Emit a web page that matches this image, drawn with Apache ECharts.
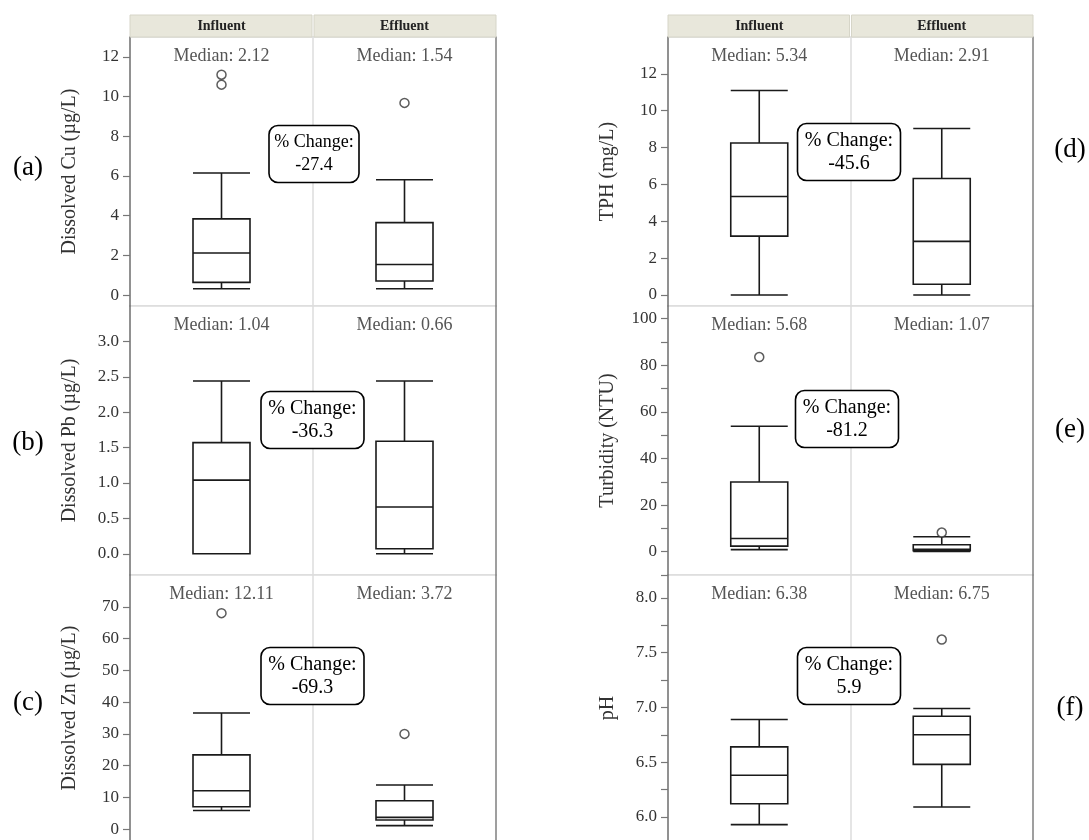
<!DOCTYPE html>
<html>
<head>
<meta charset="utf-8">
<script src="https://cdn.jsdelivr.net/npm/echarts@6/dist/echarts.min.js"></script>
<style>
html,body{margin:0;padding:0;background:#fff;}
#chart{width:1089px;height:840px;}
</style>
</head>
<body>
<div id="chart"></div>
<script>
// ---------- DATA ----------
const categories = ['Influent', 'Effluent'];
const panelLetters = ['(a)', '(b)', '(c)', '(d)', '(e)', '(f)'];
const yTitles = ['Dissolved Cu (µg/L)', 'Dissolved Pb (µg/L)', 'Dissolved Zn (µg/L)', 'TPH (mg/L)', 'Turbidity (NTU)', 'pH'];

// box stats: [lower whisker, Q1, median, Q3, upper whisker] for Influent, Effluent
const cuBox = [[0.32, 0.64, 2.12, 3.84, 6.15], [0.32, 0.71, 1.54, 3.65, 5.81]];
const pbBox = [[0.0, 0.0, 1.04, 1.57, 2.44], [0.0, 0.07, 0.66, 1.59, 2.44]];
const znBox = [[5.9, 7.06, 12.11, 23.4, 36.6], [1.15, 2.9, 3.72, 8.96, 13.9]];
const tphBox = [[0.0, 3.19, 5.34, 8.25, 11.1], [0.0, 0.58, 2.91, 6.32, 9.03]];
const turbBox = [[0.9, 2.4, 5.68, 29.9, 53.8], [0.15, 0.4, 1.07, 3.0, 6.4]];
const phBox = [[5.93, 6.12, 6.38, 6.64, 6.89], [6.09, 6.48, 6.75, 6.92, 6.99]];

// outliers: [category index, value]
const cuOut = [[0, 11.1], [0, 10.6], [1, 9.68]];
const pbOut = [];
const znOut = [[0, 68.0], [1, 30.0]];
const tphOut = [];
const turbOut = [[0, 83.5], [1, 8.2]];
const phOut = [[1, 7.62]];

const pctChange = ['-27.4', '-36.3', '-69.3', '-45.6', '-81.2', '5.9'];

// axis ranges and tick labels
const cuTicks = [0, 2, 4, 6, 8, 10, 12];
const pbTicks = [0, 0.5, 1.0, 1.5, 2.0, 2.5, 3.0];
const znTicks = [0, 10, 20, 30, 40, 50, 60, 70];
const tphTicks = [0, 2, 4, 6, 8, 10, 12];
const turbTicks = [0, 20, 40, 60, 80, 100];
const turbMinorTicks = [-10, 0, 10, 20, 30, 40, 50, 60, 70, 80, 90, 100];
const phTicks = [6.0, 6.5, 7.0, 7.5, 8.0];
const phMinorTicks = [6.0, 6.25, 6.5, 6.75, 7.0, 7.25, 7.5, 7.75, 8.0];

const yRanges = [[-0.55, 13], [-0.3, 3.5], [-3.7, 80], [-0.6, 14], [-10, 105.4], [5.78, 8.21]];

const boxes = [cuBox, pbBox, znBox, tphBox, turbBox, phBox];
const outs = [cuOut, pbOut, znOut, tphOut, turbOut, phOut];
const labelTicks = [cuTicks, pbTicks, znTicks, tphTicks, turbTicks, phTicks];
const tickMarks = [cuTicks, pbTicks, znTicks, tphTicks, turbMinorTicks, phMinorTicks];
const decimals = [0, 1, 0, 0, 0, 1];

// ---------- LAYOUT ----------
const FONT = '"Liberation Serif", "Times New Roman", serif';
const setLeft = [130, 668];
const setWidth = [366, 365];
const rowTop = [37, 306, 575];
const rowH = [269, 269, 266];

const chart = echarts.init(document.getElementById('chart'));

const grids = [], xAxes = [], yAxes = [], series = [], graphics = [];

for (let i = 0; i < 6; i++) {
  const s = Math.floor(i / 3), r = i % 3;
  const left = setLeft[s], width = setWidth[s], top = rowTop[r], height = rowH[r];
  grids.push({left, top, width, height, show: true, borderColor: '#dcdcdc', borderWidth: 1.5,
    backgroundColor: '#fff', outerBoundsMode: 'none', containLabel: false});
  const med = boxes[i].map(b => b[2]);
  xAxes.push({
    type: 'category', gridIndex: i, data: categories, position: 'top',
    axisLine: {show: false}, axisTick: {show: false},
    axisLabel: {inside: true, margin: 10, fontFamily: FONT, fontSize: 18, color: '#555',
      formatter: (v, idx) => 'Median: ' + med[idx].toFixed(2)},
    splitLine: {show: true, lineStyle: {color: '#dcdcdc', width: 1.5}}
  });
  const dec = decimals[i];
  yAxes.push({
    type: 'value', gridIndex: i, min: yRanges[i][0], max: yRanges[i][1], position: 'left',
    axisLine: {show: true, lineStyle: {color: '#777', width: 1.5}},
    axisTick: {show: true, length: 7, lineStyle: {color: '#777', width: 1.2}, customValues: tickMarks[i]},
    axisLabel: {color: '#333', fontFamily: FONT, fontSize: 17, margin: 11, customValues: labelTicks[i],
      formatter: v => v.toFixed(dec)},
    splitLine: {show: false},
    name: yTitles[i], nameLocation: 'middle', nameGap: 50,
    nameTextStyle: {fontFamily: FONT, fontSize: 20, color: '#333'}
  });
  yAxes.push({
    type: 'value', gridIndex: i, min: yRanges[i][0], max: yRanges[i][1], position: 'right',
    axisLine: {show: true, lineStyle: {color: '#8a8a8a', width: 1.5}},
    axisTick: {show: false}, axisLabel: {show: false}, splitLine: {show: false}
  });
  series.push({
    type: 'boxplot', xAxisIndex: i, yAxisIndex: 2 * i, data: boxes[i],
    boxWidth: [57, 57], silent: true,
    itemStyle: {color: 'rgba(255,255,255,0)', borderColor: '#1a1a1a', borderWidth: 1.6}
  });
  series.push({
    type: 'scatter', xAxisIndex: i, yAxisIndex: 2 * i, data: outs[i], symbol: 'circle', symbolSize: 9,
    silent: true,
    itemStyle: {color: '#fff', borderColor: '#333', borderWidth: 1.5}
  });
}

// header strips
for (let s = 0; s < 2; s++) {
  const half = setWidth[s] / 2;
  for (let c = 0; c < 2; c++) {
    const x0 = setLeft[s] + c * half;
    graphics.push({type: 'rect', shape: {x: x0 + (c ? 1 : 0), y: 15, width: half - 1, height: 22},
      style: {fill: '#e8e7db', stroke: '#d6d5c8', lineWidth: 1}, z: 100});
    graphics.push({type: 'text', x: x0 + half / 2, y: 26,
      style: {text: categories[c], font: 'bold 14px ' + FONT, fill: '#222', textAlign: 'center', textVerticalAlign: 'middle'}, z: 101});
  }
}

// panel letters
const letterPos = [[28, 168], [28, 443], [28, 703], [1070, 150], [1070, 430], [1070, 708]];
for (let i = 0; i < 6; i++) {
  graphics.push({type: 'text', x: letterPos[i][0], y: letterPos[i][1],
    style: {text: panelLetters[i], font: '27px ' + FONT, fill: '#000', textAlign: 'center', textVerticalAlign: 'middle'}, z: 100});
}

// % change boxes
const boxPos = [[314, 154, 90, 18], [312.5, 420, 103, 20], [312.5, 676, 103, 20], [849, 152, 103, 20], [847, 419, 103, 20], [849, 676, 103, 20]];
for (let i = 0; i < 6; i++) {
  const [cx, cy, w, fs] = boxPos[i];
  graphics.push({type: 'rect', shape: {x: cx - w / 2, y: cy - 28.5, width: w, height: 57, r: 9},
    style: {fill: '#fff', stroke: '#000', lineWidth: 1.6}, z: 200});
  graphics.push({type: 'text', x: cx, y: cy,
    style: {text: '% Change:\n' + pctChange[i], font: fs + 'px ' + FONT, fill: '#000',
      textAlign: 'center', textVerticalAlign: 'middle', lineHeight: 23}, z: 201});
}

chart.setOption({
  animation: false,
  backgroundColor: '#fff',
  grid: grids,
  xAxis: xAxes,
  yAxis: yAxes,
  series: series,
  graphic: {elements: graphics}
});
</script>
</body>
</html>
